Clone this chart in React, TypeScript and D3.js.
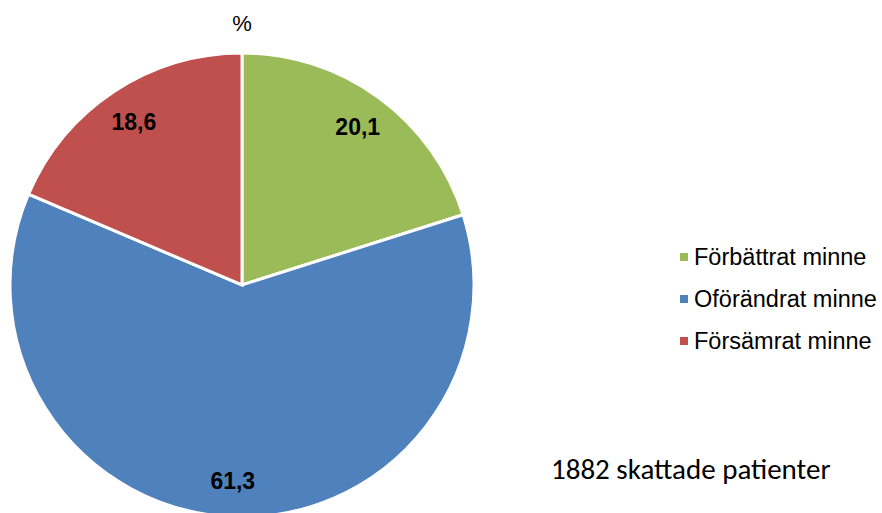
import React from 'react'
import { arc, pie, PieArcDatum } from 'd3'

// data
const categories = ['Förbättrat minne', 'Oförändrat minne', 'Försämrat minne']
const values = [20.1, 61.3, 18.6]
const colors = ['#9BBB59', '#4F81BD', '#C0504D']
const title = '%'
const note = '1882 skattade patienter'

const width = 882
const height = 513
const cx = 242
const cy = 285
const radius = 232

type Slice = { name: string; value: number; color: string }

export default function App() {
  const slices: Slice[] = categories.map((name, i) => ({ name, value: values[i], color: colors[i] }))

  const layout = pie<Slice>().value(d => d.value).sort(null)
  const arcs = layout(slices)

  const path = arc<PieArcDatum<Slice>>().innerRadius(0).outerRadius(radius)
  const labelArc = arc<PieArcDatum<Slice>>().innerRadius(radius * 0.845).outerRadius(radius * 0.845)

  return (
    <svg width={width} height={height} style={{ position: 'absolute', left: 0, top: 0 }}>
      <text x={cx} y={23} textAnchor="middle" dominantBaseline="central"
        fontFamily="'Liberation Sans', Arial, sans-serif" fontSize={22}>{title}</text>

      <g transform={`translate(${cx},${cy})`}>
        {arcs.map((d, i) => (
          <path key={i} d={path(d) || ''} fill={d.data.color} stroke="#fff" strokeWidth={3} />
        ))}
        {arcs.map((d, i) => {
          const [x, y] = labelArc.centroid(d)
          return (
            <text key={i} x={x} y={y} textAnchor="middle" dominantBaseline="central"
              fontFamily="'Liberation Sans', Arial, sans-serif" fontSize={23} fontWeight="bold">
              {d.data.value.toFixed(1).replace('.', ',')}
            </text>
          )
        })}
      </g>

      <g>
        {slices.map((s, i) => (
          <g key={i} transform={`translate(680,${257 + i * 42})`}>
            <rect x={0} y={-4} width={8} height={8} fill={s.color} />
            <text x={14} y={0} dominantBaseline="central"
              fontFamily="'Liberation Sans', Arial, sans-serif" fontSize={23.5}>{s.name}</text>
          </g>
        ))}
      </g>

      <text x={551} y={479}
        fontFamily="Carlito, Lato, 'Open Sans', sans-serif" fontSize={29}>{note}</text>
    </svg>
  )
}
